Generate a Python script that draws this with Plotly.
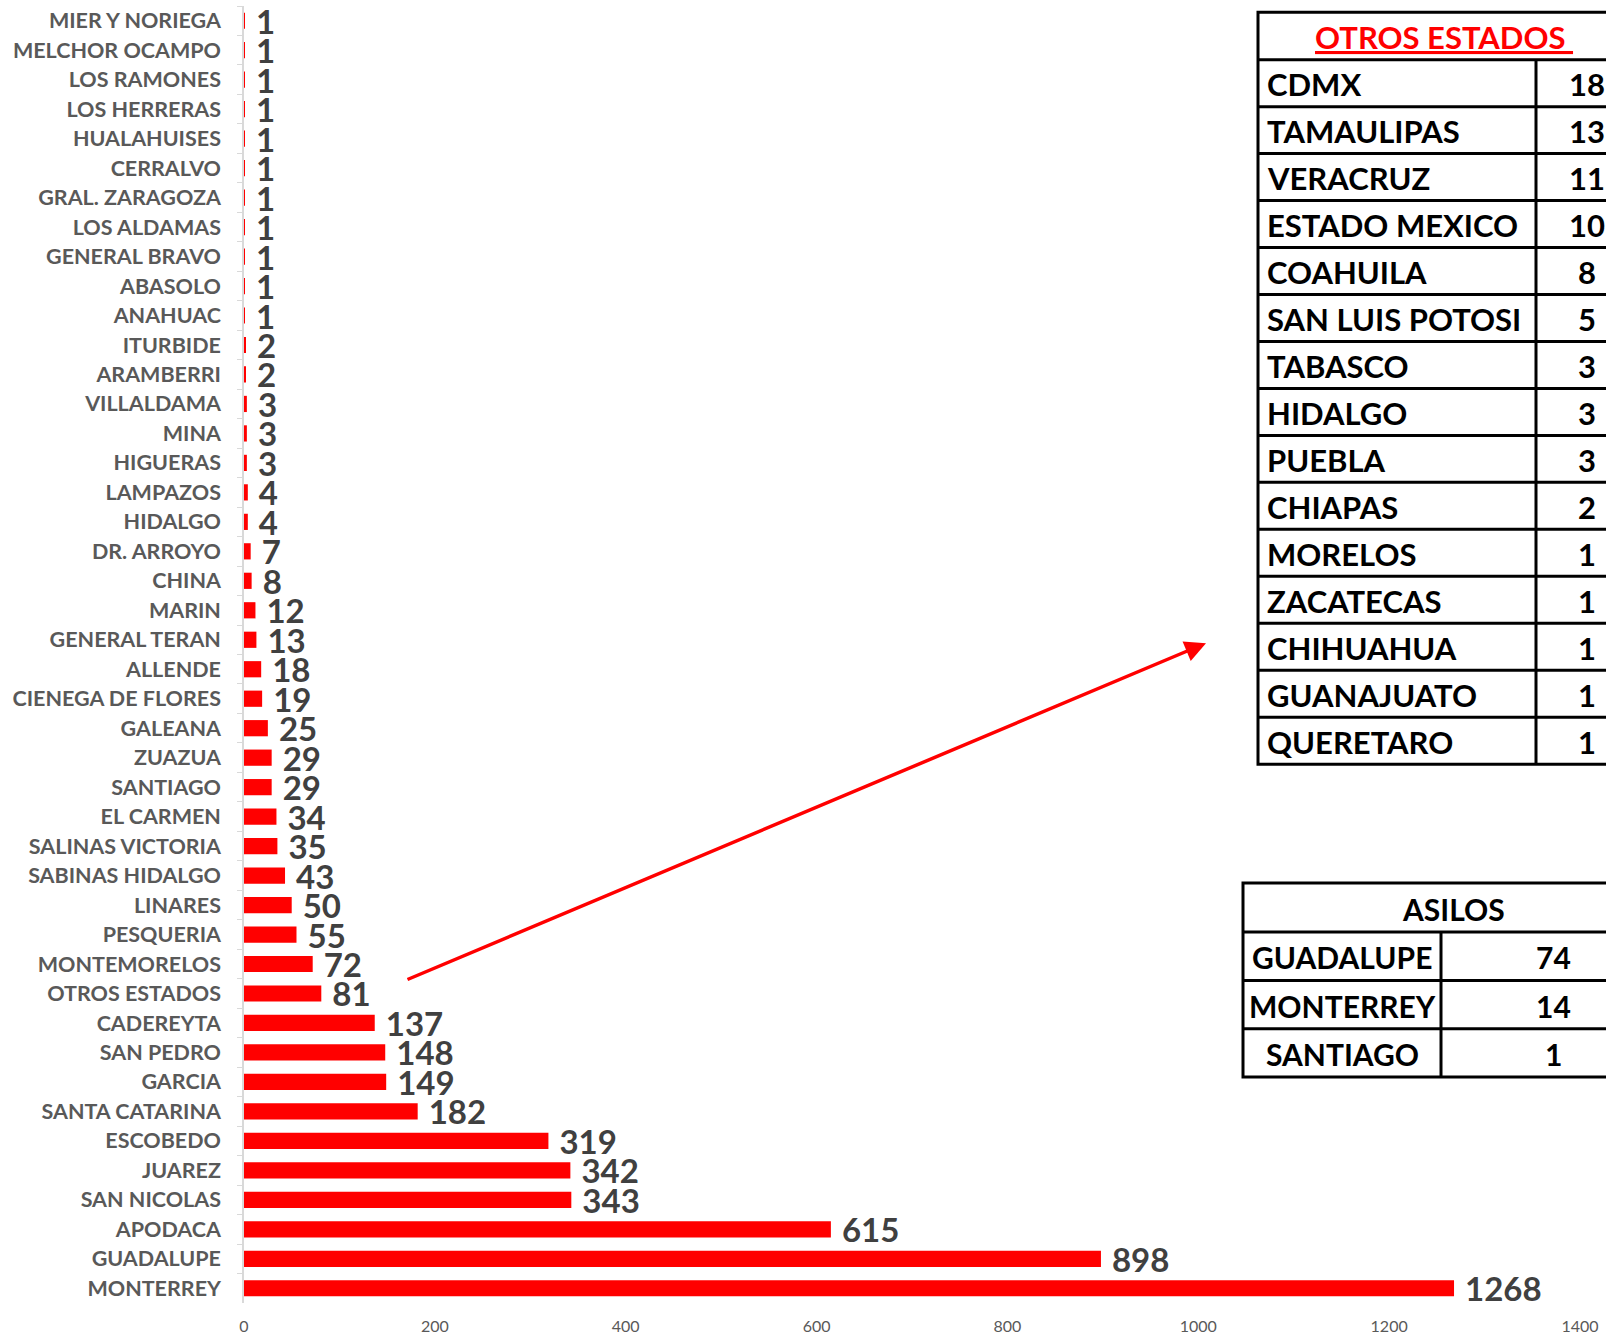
import plotly.graph_objects as go

municipios = ["MIER Y NORIEGA", "MELCHOR OCAMPO", "LOS RAMONES", "LOS HERRERAS", "HUALAHUISES",
              "CERRALVO", "GRAL. ZARAGOZA", "LOS ALDAMAS", "GENERAL BRAVO", "ABASOLO", "ANAHUAC",
              "ITURBIDE", "ARAMBERRI", "VILLALDAMA", "MINA", "HIGUERAS", "LAMPAZOS", "HIDALGO",
              "DR. ARROYO", "CHINA", "MARIN", "GENERAL TERAN", "ALLENDE", "CIENEGA DE FLORES",
              "GALEANA", "ZUAZUA", "SANTIAGO", "EL CARMEN", "SALINAS VICTORIA", "SABINAS HIDALGO",
              "LINARES", "PESQUERIA", "MONTEMORELOS", "OTROS ESTADOS", "CADEREYTA", "SAN PEDRO",
              "GARCIA", "SANTA CATARINA", "ESCOBEDO", "JUAREZ", "SAN NICOLAS", "APODACA",
              "GUADALUPE", "MONTERREY"]
casos = [1, 1, 1, 1, 1, 1, 1, 1, 1, 1, 1, 2, 2, 3, 3, 3, 4, 4, 7, 8, 12, 13, 18, 19, 25, 29, 29,
         34, 35, 43, 50, 55, 72, 81, 137, 148, 149, 182, 319, 342, 343, 615, 898, 1268]

x_ticks = [0, 200, 400, 600, 800, 1000, 1200, 1400]

otros_estados = ["CDMX", "TAMAULIPAS", "VERACRUZ", "ESTADO MEXICO", "COAHUILA", "SAN LUIS POTOSI",
                 "TABASCO", "HIDALGO", "PUEBLA", "CHIAPAS", "MORELOS", "ZACATECAS", "CHIHUAHUA",
                 "GUANAJUATO", "QUERETARO"]
otros_vals = [18, 13, 11, 10, 8, 5, 3, 3, 3, 2, 1, 1, 1, 1, 1]

asilos = ["GUADALUPE", "MONTERREY", "SANTIAGO"]
asilos_vals = [74, 14, 1]

W, H = 1606, 1334
L, T = 244, 5.8
PW = 1336
PH = 44 * 29.48
R = W - L - PW
B = H - T - PH
FONT = "Lato"


def px(xp):  # page x -> paper
    return (xp - L) / PW


def py(yp):  # page y -> paper
    return (H - B - yp) / PH


fig = go.Figure()
fig.add_trace(go.Bar(
    y=municipios, x=casos, orientation="h",
    marker=dict(color="#ff0000", line=dict(width=0)),
    width=0.55,
    text=["\u00a0" + str(v) for v in casos], textposition="outside",
    constraintext="none",
    textfont=dict(family=FONT, size=33, color="#404040", weight="bold"),
    cliponaxis=False,
))

shapes = []
annots = []
lw = 3

# Table 1: OTROS ESTADOS
t1_left, t1_div, t1_right = 1258, 1536, 1660
t1_top, t1_head, t1_bot = 12, 59.5, 764
row_h = (t1_bot - t1_head) / len(otros_estados)
shapes.append(dict(type="rect", xref="paper", yref="paper",
                   x0=px(t1_left), x1=px(t1_right), y0=py(t1_top), y1=py(t1_bot),
                   line=dict(color="black", width=lw)))
shapes.append(dict(type="line", xref="paper", yref="paper", x0=px(t1_left), x1=px(t1_right),
                   y0=py(t1_head), y1=py(t1_head), line=dict(color="black", width=lw)))
shapes.append(dict(type="line", xref="paper", yref="paper", x0=px(t1_div), x1=px(t1_div),
                   y0=py(t1_head), y1=py(t1_bot), line=dict(color="black", width=lw)))
annots.append(dict(xref="paper", yref="paper", x=px(1444), y=py((t1_top + t1_head) / 2 + 1),
                   text="<u>OTROS ESTADOS </u>", showarrow=False,
                   font=dict(family=FONT, size=31, color="#ff0000", weight="bold"),
                   xanchor="center", yanchor="middle"))
for i, (name, v) in enumerate(zip(otros_estados, otros_vals)):
    y0 = t1_head + row_h * i
    if i > 0:
        shapes.append(dict(type="line", xref="paper", yref="paper", x0=px(t1_left), x1=px(t1_right),
                           y0=py(y0), y1=py(y0), line=dict(color="black", width=lw)))
    yc = py(y0 + row_h / 2 + 1)
    annots.append(dict(xref="paper", yref="paper", x=px(1265), y=yc, text=name, showarrow=False,
                       font=dict(family=FONT, size=31, color="black", weight="bold"),
                       xanchor="left", yanchor="middle"))
    annots.append(dict(xref="paper", yref="paper", x=px(1587), y=yc, text=str(v), showarrow=False,
                       font=dict(family=FONT, size=31, color="black", weight="bold"),
                       xanchor="center", yanchor="middle"))

# Table 2: ASILOS
t2_left, t2_div, t2_right = 1243, 1441, 1660
t2_top, t2_head, t2_bot = 883, 932, 1077
row2 = (t2_bot - t2_head) / len(asilos)
shapes.append(dict(type="rect", xref="paper", yref="paper",
                   x0=px(t2_left), x1=px(t2_right), y0=py(t2_top), y1=py(t2_bot),
                   line=dict(color="black", width=lw)))
shapes.append(dict(type="line", xref="paper", yref="paper", x0=px(t2_left), x1=px(t2_right),
                   y0=py(t2_head), y1=py(t2_head), line=dict(color="black", width=lw)))
shapes.append(dict(type="line", xref="paper", yref="paper", x0=px(t2_div), x1=px(t2_div),
                   y0=py(t2_head), y1=py(t2_bot), line=dict(color="black", width=lw)))
annots.append(dict(xref="paper", yref="paper", x=px(1453), y=py((t2_top + t2_head) / 2 + 1),
                   text="ASILOS", showarrow=False,
                   font=dict(family=FONT, size=30, color="black", weight="bold"),
                   xanchor="center", yanchor="middle"))
for i, (name, v) in enumerate(zip(asilos, asilos_vals)):
    y0 = t2_head + row2 * i
    if i > 0:
        shapes.append(dict(type="line", xref="paper", yref="paper", x0=px(t2_left), x1=px(t2_right),
                           y0=py(y0), y1=py(y0), line=dict(color="black", width=lw)))
    yc = py(y0 + row2 / 2 + 1)
    annots.append(dict(xref="paper", yref="paper", x=px((t2_left + t2_div) / 2), y=yc, text=name,
                       showarrow=False, font=dict(family=FONT, size=30, color="black", weight="bold"),
                       xanchor="center", yanchor="middle"))
    annots.append(dict(xref="paper", yref="paper", x=px(1553), y=yc, text=str(v), showarrow=False,
                       font=dict(family=FONT, size=30, color="black", weight="bold"),
                       xanchor="center", yanchor="middle"))

# Arrow
annots.append(dict(xref="paper", yref="paper", x=px(1206), y=py(643),
                   ax=406 - 1206, ay=980 - 643, axref="pixel", ayref="pixel",
                   showarrow=True, arrowhead=2, arrowsize=1.2, arrowwidth=3.5, arrowcolor="#ff0000",
                   text=""))

fig.update_layout(
    width=W, height=H,
    margin=dict(l=L, r=R, t=T, b=B, pad=0, autoexpand=False),
    paper_bgcolor="white", plot_bgcolor="white",
    showlegend=False,
    shapes=shapes, annotations=annots,
    xaxis=dict(range=[0, 1400], tickvals=x_ticks, showgrid=False, zeroline=False,
               showline=False, ticks="", ticklabelstandoff=12, automargin=False,
               tickfont=dict(family=FONT, size=16, color="#595959")),
    yaxis=dict(autorange="reversed", showgrid=False, zeroline=False, automargin=False,
               showline=True, linecolor="#d9d9d9", linewidth=1.5,
               ticks="outside", tickson="boundaries", ticklen=5, tickcolor="#d9d9d9",
               ticklabelstandoff=17,
               tickfont=dict(family=FONT, size=21.5, color="#595959", weight="bold")),
)

fig.write_html("out.html", config={"displayModeBar": False},
               post_script="document.body.style.margin='0';document.body.style.overflow='hidden';")
